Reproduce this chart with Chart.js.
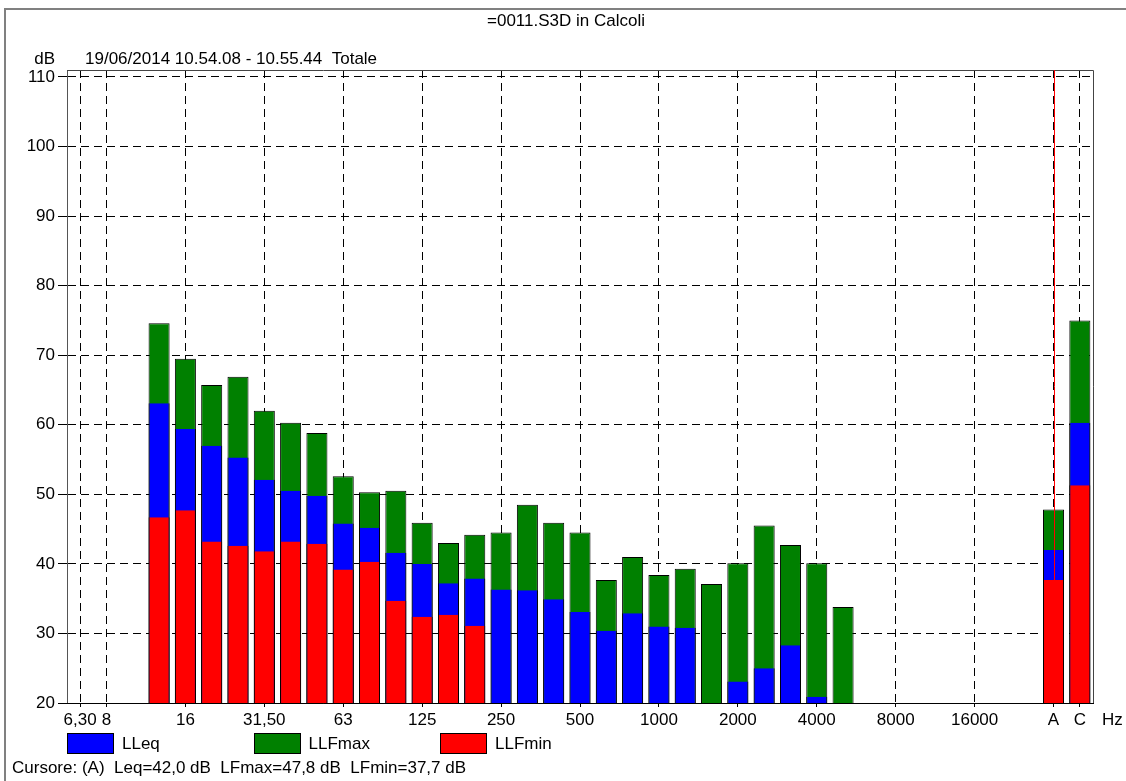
<!DOCTYPE html>
<html>
<head>
<meta charset="utf-8">
<title>=0011.S3D in Calcoli</title>
<script src="https://cdn.jsdelivr.net/npm/chart.js@4.4.1/dist/chart.umd.min.js"></script>
<style>
  html, body { margin: 0; padding: 0; background: #fff; }
  #wrap { width: 1126px; height: 781px; }
</style>
</head>
<body>
<div id="wrap"><canvas id="spectrum" width="1126" height="781"></canvas></div>
<script>
// third-octave bands, an empty slot, then the A / C weighted totals
const bands = ["6.3", "8", "10", "12.5", "16", "20", "25", "31.5", "40", "50", "63", "80", "100",
  "125", "160", "200", "250", "315", "400", "500", "630", "800", "1000", "1250", "1600", "2000",
  "2500", "3150", "4000", "5000", "6300", "8000", "10000", "12500", "16000", "20000", "", "A", "C"];

// only these show up under the axis
const tickLabels = ["6,30", "8", "", "", "16", "", "", "31,50", "", "", "63", "", "",
  "125", "", "", "250", "", "", "500", "", "", "1000", "", "", "2000",
  "", "", "4000", "", "", "8000", "", "", "16000", "", "", "A", "C"];

// dB values, null = under the 20 dB floor / not measured
const llfMax = [null, null, null, 74.6, 69.5, 65.7, 66.9, 62.0, 60.3, 58.8, 52.6, 50.3, 50.5,
  45.9, 43.0, 44.2, 44.5, 48.5, 45.9, 44.5, 37.7, 41.0, 38.4, 39.3, 37.1, 40.1,
  45.5, 42.7, 40.1, 33.8, null, null, null, null, null, null, null, 47.8, 75.0];
const llEq = [null, null, null, 63.1, 59.4, 57.0, 55.3, 52.1, 50.5, 49.8, 45.8, 45.2, 41.6,
  40.0, 37.2, 37.9, 36.3, 36.2, 34.9, 33.1, 30.4, 32.9, 31.0, 30.8, null, 23.1,
  25.0, 28.3, 20.9, null, null, null, null, null, null, null, null, 42.0, 60.3];
const llfMin = [null, null, null, 46.7, 47.7, 43.2, 42.6, 41.8, 43.2, 42.9, 39.2, 40.3, 34.7,
  32.4, 32.7, 31.1, null, null, null, null, null, null, null, null, null, null,
  null, null, null, null, null, null, null, null, null, null, null, 37.7, 51.3];

const yTicks = [20, 30, 40, 50, 60, 70, 80, 90, 100, 110];
const yMin = 20;
const yMax = 111;

const titleText = "=0011.S3D in Calcoli";
const periodText = "19/06/2014 10.54.08 - 10.55.44  Totale";
const cursorBand = "A";

const FONT_FAMILY = '"Liberation Sans", Arial, sans-serif';
const FONT = "17px " + FONT_FAMILY;

Chart.defaults.font.family = FONT_FAMILY;
Chart.defaults.font.size = 17;
Chart.defaults.color = "#000";

const iCursor = bands.indexOf(cursorBand);
const fmt = (v) => v.toFixed(1).replace(".", ",");
const cursorText = "Cursore: (" + cursorBand + ")  Leq=" + fmt(llEq[iCursor]) + " dB  LFmax=" +
  fmt(llfMax[iCursor]) + " dB  LFmin=" + fmt(llfMin[iCursor]) + " dB";

const sideBorders = { left: 1, right: 1, top: 0, bottom: 0 };

// frame, header texts, cursor line, legend and status line
const decor = {
  id: "decor",
  beforeDraw(chart) {
    const ctx = chart.ctx;
    ctx.save();
    ctx.fillStyle = "#fff";
    ctx.fillRect(0, 0, chart.width, chart.height);

    ctx.strokeStyle = "#808080";
    ctx.lineWidth = 2;
    ctx.beginPath();
    ctx.moveTo(5, chart.height);
    ctx.lineTo(5, 9);
    ctx.lineTo(chart.width, 9);
    ctx.stroke();

    ctx.font = FONT;
    ctx.fillStyle = "#000";
    ctx.textBaseline = "middle";
    ctx.textAlign = "center";
    ctx.fillText(titleText, 566, 21);
    ctx.textAlign = "right";
    ctx.fillText("dB", 55, 59);
    ctx.textAlign = "left";
    ctx.fillText(periodText, 85, 59);
    ctx.restore();
  },
  afterDatasetsDraw(chart) {
    const ctx = chart.ctx;
    const a = chart.chartArea;
    const xs = chart.scales.x;
    ctx.save();

    // plot box
    ctx.lineWidth = 1;
    ctx.strokeStyle = "#444";
    ctx.beginPath();
    ctx.moveTo(a.left, a.top + 0.5);
    ctx.lineTo(a.right + 0.5, a.top + 0.5);
    ctx.lineTo(a.right + 0.5, a.bottom);
    ctx.stroke();
    ctx.strokeStyle = "#000";
    ctx.beginPath();
    ctx.moveTo(a.left, a.bottom + 0.5);
    ctx.lineTo(a.right, a.bottom + 0.5);
    ctx.stroke();

    // cursor
    const cx = Math.round(xs.getPixelForValue(iCursor)) + 0.5;
    ctx.strokeStyle = "#ff0000";
    ctx.beginPath();
    ctx.moveTo(cx, a.top);
    ctx.lineTo(cx, a.bottom);
    ctx.stroke();

    ctx.font = FONT;
    ctx.fillStyle = "#000";
    ctx.textBaseline = "middle";
    ctx.textAlign = "left";
    ctx.fillText("Hz", 1102, 720);

    // legend
    const legendOrder = [0, 1, 2];
    legendOrder.forEach((di, k) => {
      const ds = chart.data.datasets[di];
      const x = 67 + k * 186.5;
      ctx.fillStyle = ds.backgroundColor;
      ctx.fillRect(Math.round(x), 733, 46, 20);
      ctx.strokeStyle = "#000";
      ctx.strokeRect(Math.round(x) + 0.5, 733.5, 46, 20);
      ctx.fillStyle = "#000";
      ctx.fillText(ds.label, x + 55, 744);
    });

    ctx.fillText(cursorText, 12, 768);
    ctx.restore();
  }
};

new Chart(document.getElementById("spectrum"), {
  type: "bar",
  data: {
    labels: bands,
    datasets: [
      { label: "LLeq", data: llEq, backgroundColor: "#0000ff", borderColor: "#000",
        borderWidth: sideBorders, order: 1 },
      { label: "LLFmax", data: llfMax, backgroundColor: "#008000", borderColor: "#000",
        borderWidth: 1, order: 2 },
      { label: "LLFmin", data: llfMin, backgroundColor: "#ff0000", borderColor: "#000",
        borderWidth: sideBorders, order: 0 }
    ]
  },
  options: {
    responsive: false,
    animation: false,
    devicePixelRatio: 1,
    layout: { padding: { left: 0, top: 70, right: 33, bottom: 0 } },
    datasets: {
      bar: { grouped: false, barPercentage: 0.8, categoryPercentage: 1.0, borderSkipped: "start" }
    },
    plugins: {
      legend: { display: false },
      title: { display: false },
      tooltip: { enabled: false }
    },
    scales: {
      x: {
        type: "category",
        offset: true,
        grid: {
          offset: false,
          color: (c) => (tickLabels[c.index] ? "#000" : "rgba(0,0,0,0)"),
          tickColor: (c) => (tickLabels[c.index] ? "#000" : "rgba(0,0,0,0)"),
          tickLength: 4
        },
        border: { display: true, color: "#000", width: 1, dash: [8, 5] },
        ticks: {
          autoSkip: false,
          maxRotation: 0,
          minRotation: 0,
          padding: 3,
          callback: (v, i) => tickLabels[i]
        },
        afterFit: (s) => { s.height = 78; }
      },
      y: {
        min: yMin,
        max: yMax,
        ticks: { padding: 3 },
        afterBuildTicks: (s) => { s.ticks = yTicks.map((v) => ({ value: v })); },
        grid: {
          color: (c) => (c.tick && c.tick.value > yMin ? "#000" : "rgba(0,0,0,0)"),
          tickColor: "#000",
          tickLength: 9
        },
        border: { display: true, color: "#555", width: 1, dash: [8, 5] },
        afterFit: (s) => { s.width = 67; }
      }
    }
  },
  plugins: [decor]
});
</script>
</body>
</html>
